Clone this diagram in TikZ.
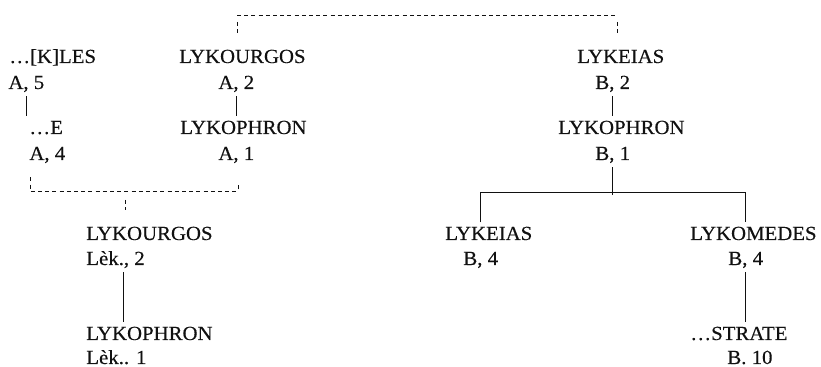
\documentclass[tikz,border=0pt]{standalone}
\usepackage{fontspec}
\setmainfont{Liberation Serif}[FakeStretch=1.04, FakeBold=0.3]
\usepackage{xcolor}
\usepackage{tikz}
\usetikzlibrary{positioning,calc}
\definecolor{xink}{HTML}{111111}

\begin{document}
\begin{tikzpicture}[
    x=0.5pt, y=-0.5pt,
    person/.style={inner sep=0pt, anchor=base west, font=\fontsize{10}{12}\selectfont, text=xink},
    siglum/.style={person},
    tie/.style={draw=xink, line width=0.5pt, shorten <=2pt, shorten >=2pt},
    kin/.style={draw=xink, line width=0.4pt, dash pattern=on 2pt off 1.6pt},
]
\useasboundingbox (0,0) rectangle (821,367);

% --- Family A ---
\node[person] (kles) at (9,63) {…[K]LES};
\node[siglum] (a5) at (8,89) {A, 5};
\node[person] (e) at (29,134) {…E};
\node[siglum] (a4) at (29,160) {A, 4};
\node[person] (lykourgosA) at (179,63) {LYKOURGOS};
\node[siglum] (a2) at (218,89) {A, 2};
\node[person] (lykophronA) at (180,134) {LYKOPHRON};
\node[siglum] (a1) at (218,160) {A, 1};

% --- Family B ---
\node[person] (lykeiasB) at (577,63) {LYKEIAS};
\node[siglum] (b2) at (595,89) {B, 2};
\node[person] (lykophronB) at (558,134) {LYKOPHRON};
\node[siglum] (b1) at (595,160) {B, 1};
\node[person] (lykeias4) at (445,240) {LYKEIAS};
\node[siglum] (b4a) at (463,265) {B, 4};
\node[person] (lykomedes) at (690,240) {LYKOMEDES};
\node[siglum] (b4b) at (728,265) {B, 4};
\node[person] (strate) at (690,340) {…STRATE};
\node[siglum] (b10) at (727,364) {B. 10};

% --- Lèk. ---
\node[person] (lykourgosL) at (86,240) {LYKOURGOS};
\node[siglum] (lek2) at (86,265) {Lèk., 2};
\node[person] (lykophronL) at (86,340) {LYKOPHRON};
\node[siglum] (lek1) at (86,364) {Lèk.. 1};

% --- Descent ---
\draw[tie] (a5.south) -- (a5.south |- e.north);
\draw[tie] (a2.south) -- (a2.south |- lykophronA.north);
\draw[tie] (b2.south) -- (b2.south |- lykophronB.north);
\draw[tie] ([xshift=4pt]lek2.south) -- ([xshift=4pt]lek2.south |- lykophronL.north);
\draw[tie] (b4b.south) -- (b4b.south |- strate.north);

% --- Sons of B, 1 ---
\coordinate (forkB) at (615,193);
\draw[tie, shorten >=-1pt] (b1.south) -- (b1.south |- forkB);
\draw[tie] (lykeias4.north -| b4a.south) -- (b4a.south |- forkB) -- (b4b.south |- forkB) -- (lykomedes.north -| b4b.south);

% --- Marriages ---
\coordinate (wedTopL) at (237,15);
\coordinate (wedTopR) at (617,15);
\draw[kin] (wedTopL) -- (wedTopR);
\draw[kin, shorten <=3.5pt, shorten >=8pt] (wedTopL) -- (wedTopL |- lykourgosA.north);
\draw[kin, shorten <=3.5pt, shorten >=8pt] (wedTopR) -- (wedTopR |- lykeiasB.north);

\coordinate (wedLowL) at (30,191);
\coordinate (wedLowM) at (125,191);
\coordinate (wedLowR) at (238,191);
\draw[kin, shorten <=7pt, shorten >=10pt] (wedLowL |- a4.south) -- (wedLowL) -- (wedLowR) -- (wedLowR |- a1.south);
\draw[kin, shorten <=4.5pt, shorten >=8pt] (wedLowM) -- (wedLowM |- lykourgosL.north);

\end{tikzpicture}
\end{document}
